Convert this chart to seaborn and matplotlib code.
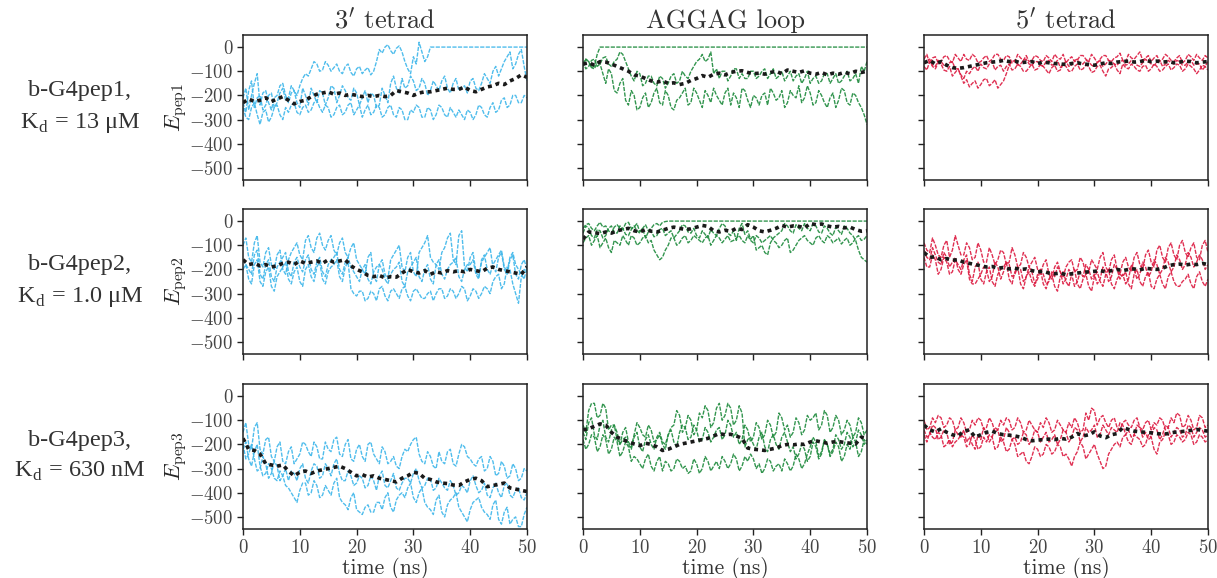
import matplotlib
matplotlib.use("Agg")
import matplotlib.pyplot as plt
import seaborn as sns
import pandas as pd

# values at whole ns (0..50) and at half ns (0.5..49.5)
whole_ns = list(range(51))
half_ns = [i + 0.5 for i in range(50)]

# ---------- b-G4pep1 ----------
p1_3t_a = [-230,-180,-250,-200,-240,-190,-230,-170,-210,-180,-160,-110,-90,-70,-95,-75,-85,-100,-80,-105,-90,-110,-85,-100,-10,0,-15,-5,-20,-90,-40,20,-60,0,0,0,0,0,0,0,0,0,0,0,0,0,0,0,0,0,0]
p1_3t_a_h = [-270,-140,-210,-260,-200,-250,-190,-220,-160,-200,-130,-120,-60,-100,-60,-100,-70,-110,-70,-120,-80,-95,-115,-60,-25,10,-30,5,-60,-110,-70,-20,-40] + [0] * 17
p1_3t_b = [-210,-260,-150,-240,-180,-260,-200,-150,-230,-180,-250,-200,-170,-230,-190,-210,-170,-200,-180,-220,-190,-210,-230,-200,-240,-200,-150,-170,-130,-160,-140,-170,-150,-180,-160,-140,-170,-150,-180,-160,-140,-170,-150,-130,-100,-120,-60,-20,-70,-10,-140]
p1_3t_b_h = [-170,-200,-110,-190,-230,-210,-160,-200,-190,-230,-170,-240,-200,-180,-240,-160,-230,-160,-210,-170,-240,-180,-190,-250,-170,-230,-120,-190,-170,-120,-180,-130,-200,-140,-180,-120,-190,-130,-170,-190,-130,-180,-110,-150,-80,-90,-40,-90,-30,-80]
p1_3t_c = [-250,-300,-230,-320,-260,-290,-240,-300,-270,-230,-280,-240,-260,-220,-270,-250,-280,-240,-270,-230,-260,-290,-240,-270,-250,-280,-240,-290,-260,-300,-270,-250,-290,-260,-280,-250,-290,-270,-260,-300,-270,-280,-250,-290,-230,-260,-210,-240,-200,-230,-210]
p1_3t_c_h = [-290,-250,-280,-270,-310,-250,-280,-250,-240,-270,-250,-270,-230,-250,-240,-290,-250,-280,-240,-280,-240,-260,-280,-240,-290,-250,-280,-250,-300,-260,-240,-290,-250,-300,-240,-280,-250,-290,-280,-260,-300,-240,-280,-250,-270,-220,-250,-200,-230,-200]
p1_3t_mean = [-230,-215,-225,-220,-210,-225,-215,-205,-220,-235,-225,-220,-205,-195,-190,-185,-195,-190,-200,-195,-200,-205,-200,-205,-200,-205,-200,-180,-185,-190,-200,-190,-185,-185,-180,-175,-170,-175,-175,-165,-180,-185,-175,-165,-160,-150,-155,-140,-130,-115,-125]

p1_lp_a = [-70,-60,-80] + [0] * 48
p1_lp_a_h = [-50,-85,-30] + [0] * 47
p1_lp_b = [-60,-80,-50,-70,-40,-80,-50,-30,-90,-140,-110,-150,-120,-160,-130,-150,-110,-140,-120,-100,-60,-30,-50,-110,-130,-100,-120,-90,-110,-130,-100,-120,-90,-110,-130,-100,-120,-140,-110,-130,-150,-120,-140,-110,-130,-150,-120,-140,-110,-80,-60]
p1_lp_b_h = [-90,-55,-80,-45,-70,-60,-20,-60,-120,-100,-160,-120,-150,-120,-170,-120,-150,-100,-130,-80,-50,-60,-20,-90,-100,-140,-90,-130,-130,-100,-130,-100,-130,-90,-120,-140,-100,-120,-150,-100,-130,-150,-110,-150,-110,-140,-100,-130,-150,-100]
p1_lp_c = [-80,-60,-90,-70,-150,-110,-190,-130,-240,-200,-250,-190,-230,-170,-240,-200,-260,-210,-170,-230,-190,-250,-200,-170,-220,-190,-240,-210,-170,-220,-200,-240,-190,-170,-220,-180,-230,-200,-160,-210,-190,-230,-200,-250,-190,-220,-180,-240,-200,-250,-320]
p1_lp_c_h = [-50,-85,-65,-110,-90,-180,-150,-220,-180,-260,-210,-250,-190,-230,-180,-250,-220,-190,-240,-170,-220,-180,-230,-200,-240,-170,-190,-250,-180,-250,-210,-200,-240,-190,-210,-250,-180,-210,-230,-160,-240,-180,-230,-210,-250,-170,-230,-190,-230,-280]
p1_lp_mean = [-70,-65,-75,-60,-62,-70,-80,-90,-100,-115,-120,-130,-140,-145,-140,-150,-148,-155,-150,-138,-130,-118,-125,-112,-108,-115,-105,-100,-98,-105,-110,-108,-112,-105,-100,-110,-95,-100,-105,-98,-108,-112,-105,-115,-108,-112,-105,-110,-100,-105,-100]

p1_5t_a = [-50,-70,-40,-60,-35,-65,-45,-30,-55,-40,-60,-35,-50,-30,-55,-40,-60,-45,-35,-55,-40,-60,-45,-30,-50,-65,-40,-55,-35,-60,-45,-50,-35,-60,-40,-55,-30,-50,-20,-45,-60,-35,-50,-40,-60,-35,-55,-40,-30,-55,-45]
p1_5t_a_h = [-30,-45,-65,-40,-55,-30,-60,-50,-30,-65,-45,-60,-30,-50,-35,-65,-30,-55,-60,-35,-55,-35,-60,-45,-30,-50,-60,-35,-50,-30,-65,-35,-55,-45,-25,-60,-45,-35,-55,-35,-45,-60,-30,-55,-45,-65,-30,-55,-45,-35]
p1_5t_b = [-80,-60,-90,-70,-100,-120,-90,-130,-110,-80,-70,-90,-60,-80,-100,-70,-90,-80,-100,-70,-90,-80,-110,-75,-95,-80,-100,-70,-90,-80,-100,-75,-120,-85,-95,-70,-90,-80,-100,-75,-90,-80,-95,-70,-85,-75,-90,-80,-110,-75,-95]
p1_5t_b_h = [-95,-80,-65,-95,-80,-105,-115,-100,-90,-100,-85,-70,-95,-75,-80,-95,-70,-100,-85,-95,-70,-95,-85,-100,-70,-100,-80,-95,-75,-105,-80,-100,-90,-70,-110,-85,-70,-95,-80,-100,-70,-100,-80,-95,-70,-100,-70,-90,-95,-80]
p1_5t_c = [-70,-50,-80,-60,-80,-60,-90,-150,-165,-140,-155,-130,-150,-170,-140,-75,-55,-70,-50,-75,-60,-80,-55,-70,-85,-60,-75,-50,-70,-60,-80,-55,-70,-60,-75,-55,-70,-60,-80,-50,-70,-65,-80,-55,-70,-60,-75,-55,-70,-95,-60]
p1_5t_c_h = [-55,-75,-55,-75,-65,-90,-120,-135,-150,-170,-135,-160,-135,-155,-110,-60,-75,-55,-70,-60,-75,-60,-75,-55,-70,-80,-55,-70,-55,-75,-65,-80,-55,-70,-60,-75,-55,-75,-65,-60,-75,-55,-70,-65,-55,-75,-60,-75,-70,-80]
p1_5t_mean = [-65,-55,-70,-60,-75,-85,-88,-85,-80,-75,-70,-65,-62,-60,-55,-60,-58,-65,-62,-60,-68,-62,-65,-68,-70,-72,-68,-65,-70,-72,-75,-70,-65,-68,-62,-60,-58,-62,-60,-55,-60,-58,-62,-60,-65,-62,-58,-60,-65,-62,-60]

# ---------- b-G4pep2 ----------
p2_3t_a = [-100,-150,-90,-170,-130,-180,-140,-200,-160,-110,-140,-80,-110,-70,-100,-80,-120,-90,-130,-110,-160,-200,-150,-230,-180,-220,-160,-120,-190,-150,-210,-130,-90,-150,-180,-130,-70,-160,-60,-190,-150,-210,-170,-130,-190,-150,-200,-160,-220,-180,-200]
p2_3t_a_h = [-70,-170,-60,-190,-110,-200,-120,-220,-130,-90,-160,-60,-130,-50,-120,-60,-140,-70,-150,-90,-180,-220,-130,-250,-160,-240,-140,-100,-210,-130,-230,-110,-60,-170,-200,-110,-50,-180,-40,-210,-130,-230,-150,-110,-210,-130,-220,-140,-240,-160]
p2_3t_b = [-200,-240,-180,-250,-210,-270,-230,-190,-240,-210,-250,-200,-230,-190,-240,-210,-180,-230,-190,-280,-310,-290,-320,-300,-280,-310,-290,-300,-280,-310,-290,-300,-320,-290,-300,-280,-310,-290,-300,-280,-310,-290,-300,-280,-250,-220,-260,-200,-300,-230,-210]
p2_3t_b_h = [-180,-260,-160,-270,-190,-290,-210,-170,-260,-190,-270,-180,-250,-170,-260,-190,-160,-250,-170,-300,-290,-330,-290,-330,-270,-330,-280,-320,-270,-330,-280,-320,-300,-330,-280,-320,-280,-320,-270,-330,-280,-320,-270,-300,-230,-280,-190,-260,-340,-200]
p2_3t_c = [-160,-200,-140,-220,-180,-230,-190,-150,-210,-170,-190,-160,-200,-170,-210,-180,-150,-200,-170,-190,-230,-200,-240,-210,-180,-240,-220,-190,-250,-210,-170,-230,-200,-240,-180,-220,-200,-170,-230,-200,-180,-220,-160,-200,-180,-140,-190,-150,-180,-220,-190]
p2_3t_c_h = [-180,-220,-120,-240,-160,-250,-170,-130,-230,-150,-210,-140,-220,-150,-230,-160,-130,-220,-150,-210,-250,-180,-260,-190,-200,-260,-200,-170,-270,-190,-150,-250,-180,-260,-160,-240,-180,-150,-250,-180,-160,-240,-140,-220,-160,-120,-210,-130,-200,-240]
p2_3t_mean = [-160,-180,-175,-185,-180,-190,-185,-175,-170,-180,-165,-175,-170,-165,-175,-160,-170,-165,-160,-185,-200,-210,-225,-230,-225,-235,-230,-232,-215,-200,-210,-215,-205,-220,-210,-215,-205,-210,-205,-210,-200,-205,-210,-195,-190,-200,-205,-210,-215,-220,-190]

p2_lp_a = [-30,-10,-40,-5,-20,-50,-15,-35,-5,-25,-45,-15,-30,-10,-5] + [0] * 36
p2_lp_a_h = [-15,-30,-20,-25,-40,-25,-30,-10,-30,-10,-30,-40,-15,-20,-2] + [0] * 35
p2_lp_b = [-50,-30,-70,-40,-60,-20,-50,-30,-60,-20,-50,-70,-40,-60,-30,-50,-70,-40,-20,-50,-60,-40,-70,-50,-30,-20,-60,-80,-10,-40,-60,-110,-130,-90,-60,-40,-20,-50,-30,-10,-40,-20,-50,-30,-60,-40,-20,-50,-80,-150,-170]
p2_lp_b_h = [-20,-60,-35,-70,-30,-45,-20,-55,-35,-40,-30,-45,-65,-35,-60,-40,-55,-15,-45,-30,-70,-55,-35,-60,-10,-50,-40,-30,-55,-75,-120,-100,-140,-70,-50,-10,-40,-15,-40,-30,-10,-45,-20,-50,-25,-55,-30,-60,-120,-160]
p2_lp_c = [-90,-60,-80,-110,-70,-130,-90,-60,-100,-70,-90,-60,-80,-140,-150,-100,-70,-90,-60,-80,-70,-90,-60,-80,-70,-75,-85,-70,-80,-60,-90,-70,-80,-60,-90,-100,-70,-120,-80,-60,-90,-70,-80,-60,-90,-70,-80,-100,-70,-80,-60]
p2_lp_c_h = [-70,-100,-60,-90,-110,-80,-100,-80,-60,-100,-70,-90,-120,-160,-120,-70,-100,-70,-90,-60,-80,-70,-100,-60,-90,-60,-80,-60,-90,-80,-60,-90,-70,-80,-110,-80,-130,-100,-70,-80,-100,-60,-90,-70,-80,-95,-70,-90,-60,-75]
p2_lp_mean = [-75,-45,-48,-52,-45,-50,-40,-35,-30,-40,-45,-35,-42,-45,-38,-30,-25,-30,-35,-32,-25,-18,-22,-40,-45,-38,-42,-30,-35,-15,-25,-40,-45,-38,-30,-18,-25,-20,-22,-28,-10,-15,-12,-20,-25,-22,-28,-25,-35,-42,-40]

p2_5t_a = [-90,-130,-100,-150,-80,-120,-100,-140,-110,-150,-120,-170,-140,-160,-130,-170,-140,-180,-150,-170,-200,-180,-220,-190,-210,-190,-160,-200,-170,-210,-180,-150,-190,-160,-200,-170,-190,-150,-180,-140,-170,-120,-150,-110,-140,-100,-130,-110,-150,-100,-130]
p2_5t_a_h = [-120,-70,-140,-100,-150,-60,-140,-90,-160,-90,-170,-110,-180,-120,-180,-110,-190,-130,-190,-150,-220,-160,-240,-170,-230,-170,-210,-150,-220,-160,-200,-130,-210,-140,-220,-150,-210,-130,-200,-120,-190,-100,-170,-90,-160,-80,-150,-90,-160,-80]
p2_5t_b = [-150,-190,-160,-200,-170,-210,-180,-160,-220,-190,-240,-210,-250,-220,-190,-240,-210,-260,-230,-250,-220,-260,-240,-270,-230,-250,-220,-260,-240,-270,-230,-250,-220,-260,-240,-230,-260,-220,-250,-230,-270,-240,-260,-230,-250,-270,-240,-260,-230,-250,-240]
p2_5t_b_h = [-190,-140,-220,-150,-220,-160,-200,-140,-250,-170,-260,-190,-270,-200,-170,-260,-190,-280,-210,-270,-200,-280,-220,-290,-210,-270,-200,-280,-220,-290,-210,-270,-200,-280,-220,-210,-280,-200,-270,-210,-280,-220,-280,-210,-270,-250,-220,-280,-210,-270]
p2_5t_c = [-120,-160,-140,-180,-150,-170,-200,-180,-240,-260,-220,-200,-230,-190,-210,-180,-220,-200,-230,-210,-240,-220,-250,-230,-210,-240,-220,-250,-230,-200,-220,-240,-210,-230,-200,-220,-240,-200,-220,-190,-210,-180,-200,-170,-190,-160,-180,-150,-170,-160,-180]
p2_5t_c_h = [-150,-110,-170,-130,-190,-150,-220,-160,-260,-240,-190,-250,-170,-240,-170,-230,-190,-250,-190,-260,-200,-260,-210,-190,-260,-200,-270,-210,-180,-240,-260,-190,-250,-180,-240,-260,-180,-240,-170,-230,-160,-220,-150,-210,-140,-200,-130,-190,-140,-200]
p2_5t_mean = [-130,-150,-148,-160,-155,-162,-160,-170,-175,-180,-185,-190,-188,-195,-192,-198,-195,-200,-198,-205,-210,-208,-215,-218,-215,-222,-218,-215,-212,-210,-208,-205,-210,-205,-200,-205,-200,-198,-202,-195,-198,-200,-195,-185,-180,-178,-182,-178,-180,-175,-180]

# ---------- b-G4pep3 ----------
p3_3t_a = [-150,-200,-130,-220,-180,-250,-210,-270,-230,-280,-240,-200,-250,-210,-260,-220,-180,-240,-200,-260,-220,-250,-200,-240,-280,-230,-270,-290,-250,-230,-180,-240,-280,-250,-300,-270,-230,-280,-240,-210,-260,-290,-250,-300,-270,-320,-290,-330,-300,-340,-310]
p3_3t_a_h = [-110,-220,-110,-240,-170,-270,-190,-280,-210,-260,-190,-230,-190,-260,-190,-230,-170,-250,-180,-270,-200,-270,-190,-260,-210,-280,-250,-300,-220,-200,-170,-270,-230,-290,-230,-280,-220,-290,-200,-250,-280,-260,-310,-250,-330,-270,-340,-280,-350,-300]
p3_3t_b = [-200,-240,-260,-300,-280,-320,-290,-330,-350,-320,-300,-340,-310,-290,-330,-300,-280,-320,-350,-330,-360,-340,-370,-350,-330,-370,-350,-380,-360,-340,-320,-350,-370,-340,-380,-360,-390,-370,-400,-380,-350,-370,-390,-410,-380,-400,-370,-410,-390,-420,-400]
p3_3t_b_h = [-260,-200,-310,-250,-340,-270,-350,-300,-310,-350,-280,-360,-280,-340,-280,-330,-260,-350,-310,-370,-330,-380,-330,-390,-310,-380,-320,-390,-340,-360,-300,-380,-340,-390,-340,-380,-350,-410,-370,-400,-330,-400,-360,-420,-360,-420,-360,-420,-380,-430]
p3_3t_c = [-220,-260,-230,-290,-320,-300,-350,-330,-380,-420,-390,-360,-400,-370,-410,-390,-360,-420,-450,-420,-470,-490,-450,-480,-440,-420,-460,-430,-400,-380,-420,-400,-440,-470,-430,-480,-450,-420,-460,-500,-470,-430,-460,-490,-450,-510,-480,-530,-500,-540,-460]
p3_3t_c_h = [-190,-290,-200,-330,-280,-340,-310,-370,-400,-440,-360,-410,-350,-420,-370,-410,-340,-440,-470,-400,-480,-460,-480,-440,-470,-400,-480,-410,-420,-360,-440,-380,-460,-490,-410,-500,-430,-400,-480,-520,-440,-420,-480,-510,-430,-530,-460,-510,-540,-490]
p3_3t_mean = [-175,-220,-225,-240,-280,-285,-290,-285,-310,-330,-315,-310,-320,-310,-305,-300,-295,-290,-300,-315,-330,-325,-335,-330,-340,-345,-350,-355,-340,-330,-315,-320,-340,-345,-355,-360,-362,-368,-370,-355,-345,-340,-350,-375,-370,-365,-360,-380,-385,-390,-395]

p3_lp_a = [-120,-60,-30,-80,-50,-120,-150,-180,-200,-170,-210,-180,-200,-170,-190,-160,-120,-80,-130,-100,-140,-90,-60,-110,-30,-80,-50,-100,-70,-180,-200,-170,-210,-180,-200,-170,-190,-210,-240,-220,-250,-210,-240,-200,-230,-210,-250,-220,-190,-230,-200]
p3_lp_a_h = [-150,-30,-90,-30,-140,-120,-200,-170,-220,-150,-230,-160,-220,-150,-200,-130,-60,-150,-80,-160,-70,-40,-130,-50,-100,-30,-120,-40,-210,-170,-220,-150,-230,-160,-220,-150,-230,-260,-200,-270,-190,-260,-180,-250,-190,-270,-200,-170,-250,-180]
p3_lp_b = [-150,-110,-160,-120,-170,-140,-180,-150,-190,-160,-130,-170,-140,-180,-200,-160,-190,-150,-130,-170,-140,-180,-150,-170,-130,-160,-120,-150,-180,-140,-170,-130,-160,-120,-150,-90,-120,-150,-110,-140,-100,-70,-120,-80,-130,-100,-140,-120,-150,-110,-140]
p3_lp_b_h = [-180,-90,-180,-100,-190,-120,-200,-130,-210,-110,-160,-120,-190,-160,-220,-140,-210,-120,-180,-120,-190,-130,-190,-140,-180,-100,-170,-200,-120,-190,-110,-180,-100,-170,-70,-140,-170,-90,-160,-80,-90,-140,-60,-150,-80,-160,-100,-170,-90,-160]
p3_lp_c = [-180,-200,-170,-210,-180,-220,-190,-230,-210,-250,-280,-260,-290,-270,-310,-280,-300,-270,-290,-310,-280,-300,-270,-290,-300,-270,-280,-260,-290,-270,-260,-280,-300,-270,-290,-310,-280,-290,-260,-280,-210,-190,-230,-200,-220,-180,-200,-170,-190,-160,-180]
p3_lp_c_h = [-220,-160,-230,-160,-240,-170,-250,-190,-270,-260,-300,-240,-310,-250,-270,-310,-260,-300,-320,-260,-320,-250,-310,-270,-250,-300,-240,-310,-250,-240,-300,-320,-260,-310,-280,-260,-310,-240,-300,-240,-170,-250,-180,-240,-160,-220,-150,-210,-140,-200]
p3_lp_mean = [-140,-135,-125,-115,-120,-150,-170,-180,-190,-198,-205,-195,-200,-210,-225,-220,-210,-200,-195,-190,-185,-180,-175,-165,-155,-160,-158,-165,-175,-215,-220,-222,-225,-220,-215,-205,-200,-202,-198,-200,-190,-185,-190,-195,-190,-188,-192,-195,-198,-170,-175]

p3_5t_a = [-100,-130,-110,-90,-120,-100,-130,-110,-140,-120,-100,-130,-110,-140,-120,-100,-130,-110,-140,-120,-150,-130,-110,-140,-120,-150,-130,-110,-140,-100,-60,-90,-110,-100,-130,-110,-120,-100,-130,-110,-140,-120,-100,-130,-110,-80,-120,-100,-130,-90,-120]
p3_5t_a_h = [-140,-90,-80,-130,-90,-140,-90,-150,-100,-90,-140,-90,-150,-100,-90,-140,-90,-150,-100,-140,-110,-90,-150,-100,-140,-110,-90,-150,-70,-50,-120,-80,-130,-90,-140,-100,-130,-90,-140,-100,-110,-90,-140,-90,-70,-130,-80,-140,-80,-130]
p3_5t_b = [-140,-160,-130,-170,-150,-190,-160,-140,-170,-220,-180,-150,-170,-140,-180,-150,-170,-190,-160,-180,-150,-170,-190,-160,-180,-150,-170,-140,-170,-150,-120,-160,-140,-130,-150,-120,-140,-160,-130,-150,-170,-140,-160,-130,-150,-140,-160,-130,-150,-140,-160]
p3_5t_b_h = [-170,-120,-180,-140,-200,-140,-170,-190,-200,-160,-130,-190,-130,-190,-130,-180,-200,-150,-200,-140,-190,-150,-180,-200,-140,-190,-130,-190,-130,-140,-170,-120,-160,-140,-110,-160,-170,-120,-170,-180,-130,-180,-120,-170,-130,-170,-120,-170,-130,-170]
p3_5t_c = [-160,-150,-180,-160,-200,-210,-180,-170,-200,-180,-210,-190,-170,-210,-190,-220,-200,-240,-270,-250,-220,-240,-210,-230,-210,-240,-290,-230,-210,-240,-200,-270,-290,-220,-190,-170,-190,-160,-180,-200,-170,-240,-180,-160,-190,-170,-180,-160,-190,-170,-180]
p3_5t_c_h = [-190,-170,-150,-210,-180,-190,-160,-210,-160,-220,-170,-160,-220,-170,-230,-180,-250,-230,-280,-210,-250,-200,-240,-200,-250,-260,-250,-190,-260,-220,-240,-300,-240,-200,-210,-160,-200,-170,-210,-160,-220,-190,-150,-200,-160,-190,-150,-200,-160,-190]
p3_5t_mean = [-120,-140,-148,-135,-150,-160,-165,-145,-140,-170,-160,-150,-145,-155,-160,-162,-165,-170,-180,-185,-182,-180,-178,-180,-175,-178,-170,-155,-165,-160,-148,-165,-172,-160,-155,-130,-138,-145,-148,-150,-152,-155,-158,-155,-150,-148,-145,-142,-138,-142,-145]

row_labels = ["b-G4pep1,\nK$_{\\mathregular{d}}$ = 13 μM",
              "b-G4pep2,\nK$_{\\mathregular{d}}$ = 1.0 μM",
              "b-G4pep3,\nK$_{\\mathregular{d}}$ = 630 nM"]
col_titles = ["$3'$ tetrad", "AGGAG loop", "$5'$ tetrad"]
y_labels = ["$E_{\\mathrm{pep1}}$", "$E_{\\mathrm{pep2}}$", "$E_{\\mathrm{pep3}}$"]
x_ticks = [0, 10, 20, 30, 40, 50]
y_ticks = [0, -100, -200, -300, -400, -500]
col_colors = ["#3db6ea", "#1d8a3c", "#dc1a40"]

panels = {
    (0, 0): ([(p1_3t_a, p1_3t_a_h), (p1_3t_b, p1_3t_b_h), (p1_3t_c, p1_3t_c_h)], p1_3t_mean),
    (0, 1): ([(p1_lp_a, p1_lp_a_h), (p1_lp_b, p1_lp_b_h), (p1_lp_c, p1_lp_c_h)], p1_lp_mean),
    (0, 2): ([(p1_5t_a, p1_5t_a_h), (p1_5t_b, p1_5t_b_h), (p1_5t_c, p1_5t_c_h)], p1_5t_mean),
    (1, 0): ([(p2_3t_a, p2_3t_a_h), (p2_3t_b, p2_3t_b_h), (p2_3t_c, p2_3t_c_h)], p2_3t_mean),
    (1, 1): ([(p2_lp_a, p2_lp_a_h), (p2_lp_b, p2_lp_b_h), (p2_lp_c, p2_lp_c_h)], p2_lp_mean),
    (1, 2): ([(p2_5t_a, p2_5t_a_h), (p2_5t_b, p2_5t_b_h), (p2_5t_c, p2_5t_c_h)], p2_5t_mean),
    (2, 0): ([(p3_3t_a, p3_3t_a_h), (p3_3t_b, p3_3t_b_h), (p3_3t_c, p3_3t_c_h)], p3_3t_mean),
    (2, 1): ([(p3_lp_a, p3_lp_a_h), (p3_lp_b, p3_lp_b_h), (p3_lp_c, p3_lp_c_h)], p3_lp_mean),
    (2, 2): ([(p3_5t_a, p3_5t_a_h), (p3_5t_b, p3_5t_b_h), (p3_5t_c, p3_5t_c_h)], p3_5t_mean),
}


def merge(whole, half):
    """Put the whole-ns and half-ns readings into one time-ordered table."""
    n = min(len(whole), len(whole_ns))
    m = min(len(half), len(half_ns))
    df = pd.DataFrame({"time": whole_ns[:n] + half_ns[:m], "E": list(whole[:n]) + list(half[:m])})
    return df.sort_values("time")


sns.set_style("ticks")
plt.rcParams["font.family"] = ["cmr10", "DejaVu Serif"]
plt.rcParams["mathtext.fontset"] = "cm"
plt.rcParams["axes.formatter.use_mathtext"] = True
plt.rcParams["axes.edgecolor"] = "#222222"
plt.rcParams["xtick.color"] = "#222222"
plt.rcParams["ytick.color"] = "#222222"

fig = plt.figure(figsize=(12.17, 5.78), dpi=100)
W, H = 1217, 578
col_left = [243, 583, 924]
row_top = [35, 209, 384]
aw, ah = 284, 145

for (r, c), (traces, mean) in panels.items():
    ax = fig.add_axes([col_left[c] / W, 1 - (row_top[r] + ah) / H, aw / W, ah / H])
    for whole, half in traces:
        df = merge(whole, half)
        sns.lineplot(data=df, x="time", y="E", ax=ax, color=col_colors[c], sort=False,
                     lw=1.0, alpha=0.9, linestyle=(0, (3.0, 1.0)), errorbar=None)
    dfm = pd.DataFrame({"time": whole_ns, "E": mean})
    sns.lineplot(data=dfm, x="time", y="E", ax=ax, color="#1a1a1a",
                 lw=2.6, linestyle=(0, (1.1, 1.1)), errorbar=None)
    ax.set_xlim(0, 50)
    ax.set_ylim(-550, 50)
    ax.set_xticks(x_ticks)
    ax.set_yticks(y_ticks)
    ax.tick_params(direction="out", length=4, width=1, labelsize=13.5, labelcolor="#444444", pad=3)
    for s in ax.spines.values():
        s.set_linewidth(1.1)
    ax.set_xlabel("")
    ax.set_ylabel("")
    if c == 0:
        ax.set_ylabel(y_labels[r], fontsize=16, labelpad=0)
    else:
        ax.set_yticklabels([])
    if r == 2:
        ax.set_xlabel("time (ns)", fontsize=15.5, labelpad=0, color="#333333")
    else:
        ax.set_xticklabels([])
    if r == 0:
        ax.set_title(col_titles[c], fontsize=19, pad=5, color="#333333")

for r in range(3):
    yc = 1 - (row_top[r] + ah / 2) / H
    fig.text(80 / W, yc, row_labels[r], ha="center", va="center", fontsize=17.5,
             family=["Liberation Serif"], color="#333333", linespacing=1.55)

fig.savefig("out.png", dpi=100)
